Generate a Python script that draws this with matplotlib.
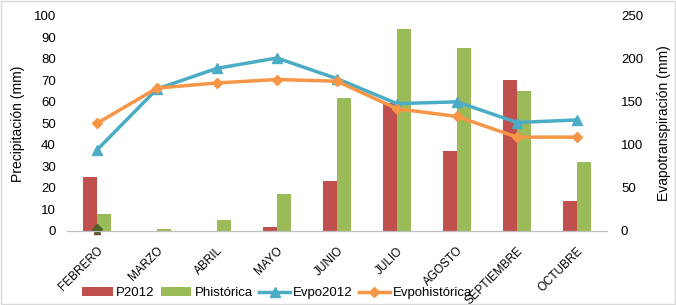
import matplotlib
matplotlib.use('Agg')
import matplotlib.pyplot as plt
import numpy as np

plt.rcParams['font.family'] = ['Liberation Sans', 'DejaVu Sans']

# datos
meses = ['FEBRERO', 'MARZO', 'ABRIL', 'MAYO', 'JUNIO', 'JULIO', 'AGOSTO', 'SEPTIEMBRE', 'OCTUBRE']
p2012 = [25, 0, 0, 2, 23, 59.5, 37, 70, 14]
phistorica = [8, 1, 5, 17, 62, 94, 85, 65, 32]
evpo2012 = [94, 165, 189, 201, 177, 148, 150, 126, 129]
evpohistorica = [125, 166, 172, 176, 174, 142, 133, 109, 109]

c_red = '#C0504D'
c_green = '#9BBB59'
c_blue = '#4BACC6'
c_orange = '#F79646'

fig = plt.figure(figsize=(6.76, 3.05), dpi=100)
ax = fig.add_axes([0.099, 0.243, 0.799, 0.705])
ax2 = ax.twinx()

x = np.arange(len(meses))
w = 0.235
b1 = ax.bar(x - w/2, p2012, width=w, color=c_red, label='P2012', zorder=2)
b2 = ax.bar(x + w/2, phistorica, width=w, color=c_green, label='Phistórica', zorder=2)
# marcadores sueltos en febrero (valor 0)
ax.plot([0], [0], marker='^', color='#8B2E2B', markersize=4, linestyle='none', zorder=3, clip_on=False)
ax.plot([0], [0.8], marker='D', color='#4F6228', markersize=5, linestyle='none', zorder=4, clip_on=False)

l1, = ax2.plot(x, evpo2012, '-^', color=c_blue, lw=2.5, markersize=7, label='Evpo2012')
l2, = ax2.plot(x, evpohistorica, '-D', color=c_orange, lw=2.5, markersize=5, label='Evpohistórica')

ax.set_xlim(-0.5, len(meses) - 0.5)
ax.set_ylim(0, 100)
ax.set_yticks(range(0, 101, 10))
ax2.set_ylim(0, 250)
ax2.set_yticks(range(0, 251, 50))

for a in (ax, ax2):
    for s in ['top', 'left', 'right']:
        a.spines[s].set_visible(False)
    a.spines['bottom'].set_color('#BFBFBF')
    a.tick_params(axis='y', length=0, labelsize=9.5, colors='#000000')
ax.tick_params(axis='y', pad=8)
ax2.tick_params(axis='y', pad=10)

ax.set_xticks(x)
ax.set_xticklabels(meses, rotation=45, ha='right', rotation_mode='anchor', fontsize=8.5,
                   family=['Liberation Sans Narrow', 'Liberation Sans', 'DejaVu Sans'])
ax.tick_params(axis='x', length=0, pad=10)

ax.set_ylabel('Precipitación (mm)', fontsize=10, labelpad=6)
ax2.set_ylabel('Evapotranspiración (mm)', fontsize=10, labelpad=10)

fig.legend(handles=[b1, b2, l1, l2], loc='lower center', bbox_to_anchor=(0.41, -0.02),
           ncol=4, frameon=False, fontsize=9.5, handlelength=2.3, handletextpad=0.25,
           columnspacing=0.5)

fig.patches.append(plt.Rectangle((0.002, 0.004), 0.996, 0.992, transform=fig.transFigure,
                                 fill=False, edgecolor='#D9D9D9', lw=1))

fig.savefig('out.png', dpi=100)
